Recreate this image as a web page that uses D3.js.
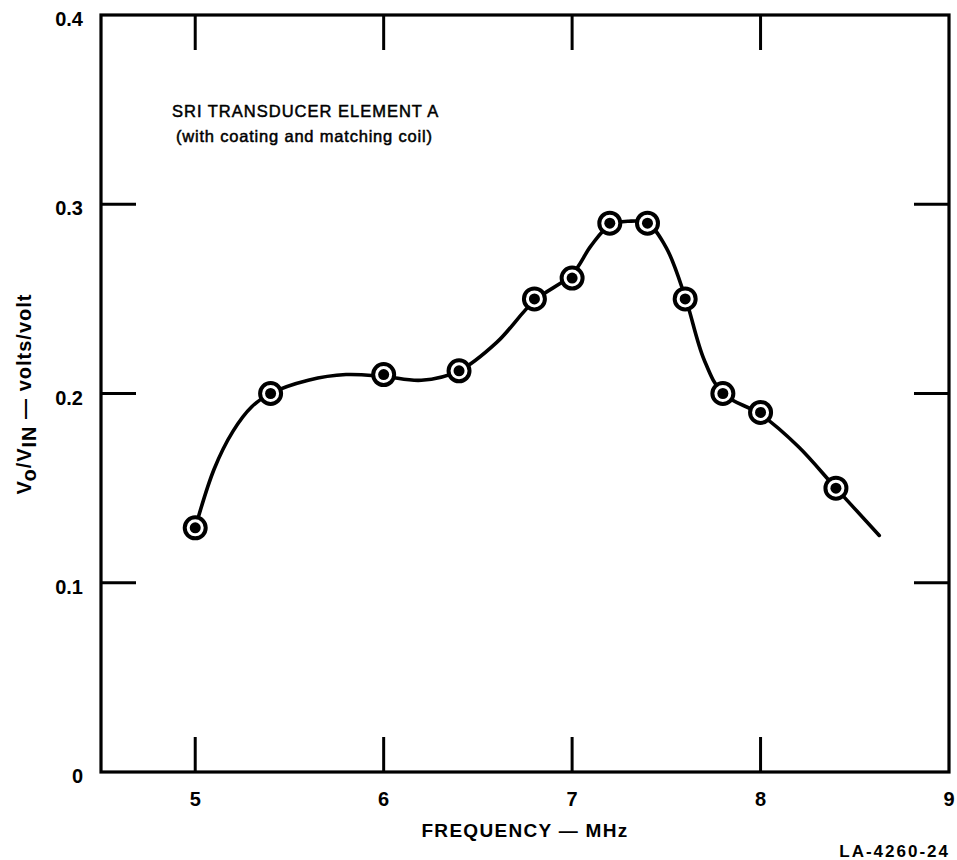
<!DOCTYPE html>
<html>
<head>
<meta charset="utf-8">
<script src="https://cdn.jsdelivr.net/npm/d3@7"></script>
<style>
  html, body { margin: 0; padding: 0; background: #fff; }
  svg { display: block; font-family: "Liberation Sans", Arial, Helvetica, sans-serif; }
</style>
</head>
<body>
<svg id="chart" width="957" height="860"></svg>
<script>
// Measured response: frequency (MHz) and output/input ratio (volts/volt)
const freqMHz = [5.0, 5.4, 6.0, 6.4, 6.8, 7.0, 7.2, 7.4, 7.6, 7.8, 8.0, 8.4];
const ratio   = [0.129, 0.200, 0.210, 0.212, 0.250, 0.261, 0.290, 0.290, 0.250, 0.200, 0.190, 0.150];

// Hand-faired curve through the measurements
const curveFreq  = [5.0, 5.1, 5.2, 5.3, 5.4, 5.6, 5.8, 6.0, 6.2, 6.4, 6.6, 6.8, 7.0, 7.1, 7.2, 7.3, 7.4, 7.5, 7.6, 7.7, 7.8, 8.0, 8.2, 8.4, 8.63];
const curveRatio = [0.129, 0.160, 0.180, 0.193, 0.200, 0.207, 0.210, 0.209, 0.207, 0.212, 0.227, 0.249, 0.263, 0.278, 0.289, 0.291, 0.290, 0.277, 0.251, 0.218, 0.200, 0.189, 0.172, 0.150, 0.125];

const xTicks = [5, 6, 7, 8, 9];
const yTicks = [0, 0.1, 0.2, 0.3, 0.4];
const xDomain = [4.5, 9];
const yDomain = [0, 0.4];

const svg = d3.select("#chart");
const margin = { left: 101, top: 15, right: 949, bottom: 772 };

const x = d3.scaleLinear().domain(xDomain).range([margin.left, margin.right]);
const y = d3.scaleLinear().domain(yDomain).range([margin.bottom, margin.top]);

const tickLen = 35;

// Inner tick marks on all four sides
const g = svg.append("g");
xTicks.filter(t => t > xDomain[0] && t < xDomain[1]).forEach(t => {
  g.append("line").attr("x1", x(t)).attr("x2", x(t))
    .attr("y1", y(0)).attr("y2", y(0) - tickLen)
    .attr("stroke", "#000").attr("stroke-width", 3);
  g.append("line").attr("x1", x(t)).attr("x2", x(t))
    .attr("y1", y(0.4)).attr("y2", y(0.4) + tickLen)
    .attr("stroke", "#000").attr("stroke-width", 3);
});
yTicks.filter(t => t > yDomain[0] && t < yDomain[1]).forEach(t => {
  g.append("line").attr("x1", x(4.5)).attr("x2", x(4.5) + tickLen)
    .attr("y1", y(t)).attr("y2", y(t))
    .attr("stroke", "#000").attr("stroke-width", 3);
  g.append("line").attr("x1", x(9)).attr("x2", x(9) - tickLen)
    .attr("y1", y(t)).attr("y2", y(t))
    .attr("stroke", "#000").attr("stroke-width", 3);
});

// Frame
svg.append("rect")
  .attr("x", x(4.5)).attr("y", y(0.4))
  .attr("width", x(9) - x(4.5)).attr("height", y(0) - y(0.4))
  .attr("fill", "none").attr("stroke", "#000").attr("stroke-width", 3.2);

// Tick labels
svg.append("g").selectAll("text").data(xTicks).join("text")
  .attr("x", d => x(d)).attr("y", y(0) + 34)
  .attr("text-anchor", "middle")
  .attr("font-size", 20).attr("font-weight", "bold")
  .text(d => d);

svg.append("g").selectAll("text").data(yTicks).join("text")
  .attr("x", 83).attr("y", d => y(d) + 11)
  .attr("text-anchor", "end")
  .attr("font-size", 20).attr("font-weight", "bold")
  .text(d => d === 0 ? "0" : d3.format(".1f")(d));

// Axis titles
svg.append("text")
  .attr("x", 525).attr("y", 837)
  .attr("text-anchor", "middle")
  .attr("font-size", 19).attr("font-weight", "bold")
  .attr("letter-spacing", 1.3)
  .text("FREQUENCY \u2014 MHz");

const yTitle = svg.append("text")
  .attr("transform", "translate(31,394) rotate(-90)")
  .attr("text-anchor", "middle")
  .attr("font-size", 20).attr("font-weight", "bold")
  .attr("letter-spacing", 1);
yTitle.append("tspan").text("V");
yTitle.append("tspan").attr("dy", 5).text("o");
yTitle.append("tspan").attr("dy", -5).text("/V");
yTitle.append("tspan").attr("dy", 5).text("IN");
yTitle.append("tspan").attr("dy", -5).text(" \u2014 volts/volt");

// Chart annotation
svg.append("text")
  .attr("x", 172).attr("y", 117)
  .attr("font-size", 16.5).attr("letter-spacing", 1.0)
  .attr("stroke", "#000").attr("stroke-width", 0.5)
  .text("SRI TRANSDUCER ELEMENT A");
svg.append("text")
  .attr("x", 176).attr("y", 142)
  .attr("font-size", 16.5).attr("letter-spacing", 0.8)
  .attr("stroke", "#000").attr("stroke-width", 0.5)
  .text("(with coating and matching coil)");

// Figure number
svg.append("text")
  .attr("x", 950).attr("y", 857)
  .attr("text-anchor", "end")
  .attr("font-size", 17).attr("font-weight", "bold")
  .attr("letter-spacing", 2)
  .text("LA-4260-24");

// Faired response curve
const curvePts = curveFreq.map((f, i) => [f, curveRatio[i]]);
svg.append("path")
  .datum(curvePts)
  .attr("d", d3.line().x(d => x(d[0])).y(d => y(d[1])).curve(d3.curveCatmullRom.alpha(0.5)))
  .attr("fill", "none").attr("stroke", "#000").attr("stroke-width", 3.6)
  .attr("stroke-linecap", "round");

// Measured points: ringed dots
const pts = freqMHz.map((f, i) => [f, ratio[i]]);
const mk = svg.append("g").selectAll("g").data(pts).join("g")
  .attr("transform", d => `translate(${x(d[0])},${y(d[1])})`);
mk.append("circle").attr("r", 10.5).attr("fill", "#fff")
  .attr("stroke", "#000").attr("stroke-width", 4);
mk.append("circle").attr("r", 5.5).attr("fill", "#000");
</script>
</body>
</html>
